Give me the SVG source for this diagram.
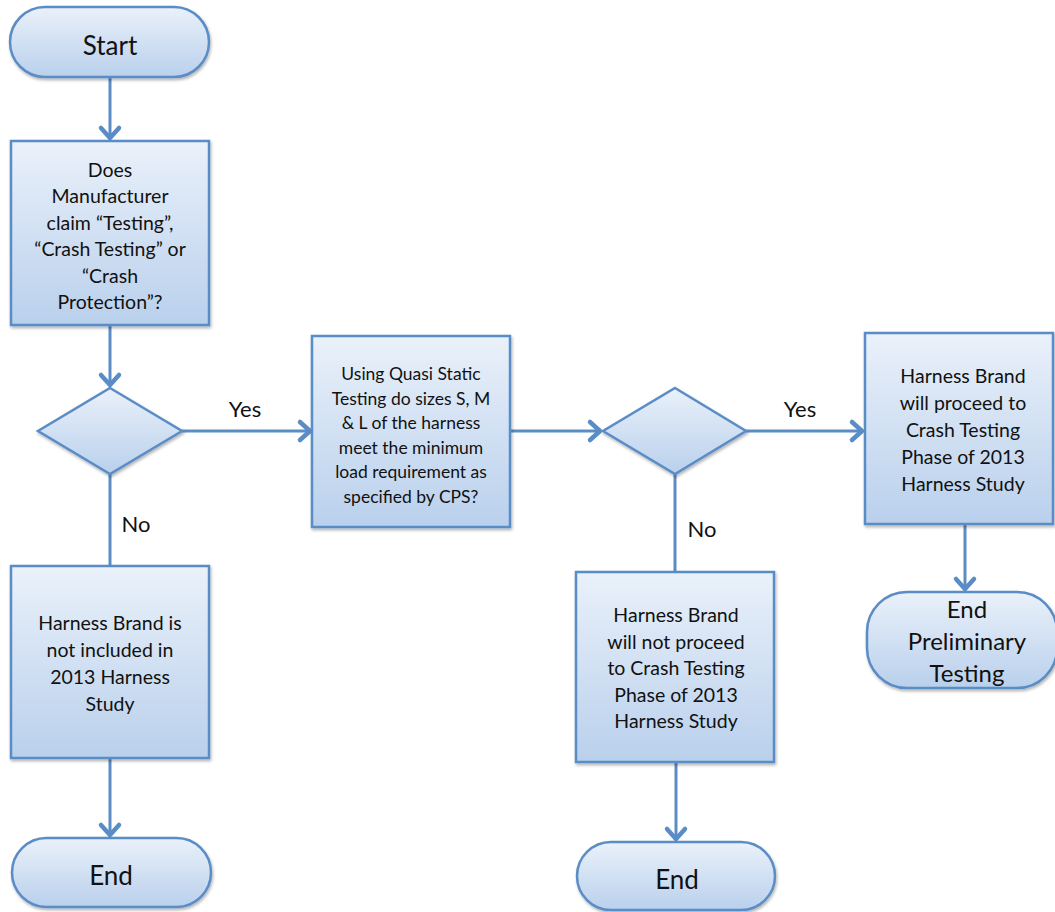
<svg xmlns="http://www.w3.org/2000/svg" width="1055" height="912" viewBox="0 0 1055 912">
<style>
.node{fill:url(#g);stroke:#5a8cc6;stroke-width:2.5;filter:url(#sh)}
.t{font-family:Lato,"Liberation Sans",sans-serif;fill:#111;text-anchor:middle}
.c{stroke:#5a8cc6;stroke-width:3;fill:none}
.arr{marker-end:url(#ah)}
</style>
<defs>
<linearGradient id="g" x1="0" y1="0" x2="0" y2="1">
<stop offset="0" stop-color="#eaf1fa"/>
<stop offset="1" stop-color="#b9d0ec"/>
</linearGradient>
<filter id="sh" x="-10%" y="-10%" width="130%" height="130%">
<feDropShadow dx="1" dy="2" stdDeviation="1.5" flood-color="#000" flood-opacity="0.3"/>
</filter>
<marker id="ah" markerUnits="userSpaceOnUse" markerWidth="30" markerHeight="30" viewBox="-15 -15 30 30" refX="0" refY="0" orient="auto">
<path d="M-11,-9 L-1,0 L-11,9" fill="none" stroke="#5a8cc6" stroke-width="4.5" stroke-linecap="round" stroke-linejoin="round"/>
</marker>
</defs>
<g id="connectors">
<line class="c arr" x1="110" y1="77" x2="110" y2="139"/>
<line class="c arr" x1="110" y1="325" x2="110" y2="386"/>
<line class="c arr" x1="182" y1="431" x2="311" y2="431"/>
<line class="c" x1="110" y1="474" x2="110" y2="566"/>
<line class="c arr" x1="110" y1="758" x2="110" y2="836"/>
<line class="c arr" x1="510" y1="431" x2="601" y2="431"/>
<line class="c arr" x1="746" y1="431" x2="863" y2="431"/>
<line class="c" x1="675" y1="474" x2="675" y2="572"/>
<line class="c arr" x1="676" y1="762" x2="676" y2="840"/>
<line class="c arr" x1="965" y1="524" x2="965" y2="590"/>
<text class="t" x="245" y="417" font-size="22">Yes</text>
<text class="t" x="136" y="532" font-size="22">No</text>
<text class="t" x="800" y="417" font-size="22">Yes</text>
<text class="t" x="702" y="537" font-size="22">No</text>
</g>
<g id="start">
<rect class="node" x="10" y="7" width="199" height="70" rx="35"/>
<text class="t" x="110" y="55" font-size="26">Start</text>
</g>
<g id="q1">
<rect class="node" x="11" y="141" width="198" height="184"/>
<text class="t" font-size="19.5"><tspan x="110" y="177">Does</tspan><tspan x="110" y="203">Manufacturer</tspan><tspan x="110" y="229.5">claim “Testing”,</tspan><tspan x="110" y="256">“Crash Testing” or</tspan><tspan x="110" y="282.5">“Crash</tspan><tspan x="110" y="309">Protection”?</tspan></text>
</g>
<g id="d1">
<polygon class="node" points="110,388 182,431 110,474 38,431"/>
</g>
<g id="notincluded">
<rect class="node" x="11" y="566" width="198" height="192"/>
<text class="t" font-size="19.5"><tspan x="110" y="630">Harness Brand is</tspan><tspan x="110" y="657">not included in</tspan><tspan x="110" y="684">2013 Harness</tspan><tspan x="110" y="711">Study</tspan></text>
</g>
<g id="end1">
<rect class="node" x="12" y="838" width="199" height="69" rx="34.5"/>
<text class="t" x="111" y="885" font-size="26">End</text>
</g>
<g id="q2">
<rect class="node" x="312" y="336" width="198" height="191"/>
<text class="t" font-size="17.5"><tspan x="411" y="380">Using Quasi Static</tspan><tspan x="411" y="404.5">Testing do sizes S, M</tspan><tspan x="411" y="429">&amp; L of the harness</tspan><tspan x="411" y="453.5">meet the minimum</tspan><tspan x="411" y="478">load requirement as</tspan><tspan x="411" y="502.5">specified by CPS?</tspan></text>
</g>
<g id="d2">
<polygon class="node" points="675,388 746,431 675,474 603,431"/>
</g>
<g id="notproceed">
<rect class="node" x="576" y="572" width="198" height="190"/>
<text class="t" font-size="19.5"><tspan x="676" y="622">Harness Brand</tspan><tspan x="676" y="648.5">will not proceed</tspan><tspan x="676" y="675">to Crash Testing</tspan><tspan x="676" y="701.5">Phase of 2013</tspan><tspan x="676" y="728">Harness Study</tspan></text>
</g>
<g id="end2">
<rect class="node" x="577" y="842" width="198" height="68" rx="34"/>
<text class="t" x="677" y="889" font-size="26">End</text>
</g>
<g id="proceed">
<rect class="node" x="865" y="333" width="188" height="191"/>
<text class="t" font-size="19.5"><tspan x="963" y="383">Harness Brand</tspan><tspan x="963" y="410">will proceed to</tspan><tspan x="963" y="437">Crash Testing</tspan><tspan x="963" y="464">Phase of 2013</tspan><tspan x="963" y="491">Harness Study</tspan></text>
</g>
<g id="endprelim">
<rect class="node" x="867" y="592" width="190" height="96" rx="40"/>
<text class="t" font-size="24"><tspan x="967" y="618">End</tspan><tspan x="967" y="650">Preliminary</tspan><tspan x="967" y="682">Testing</tspan></text>
</g>
</svg>
